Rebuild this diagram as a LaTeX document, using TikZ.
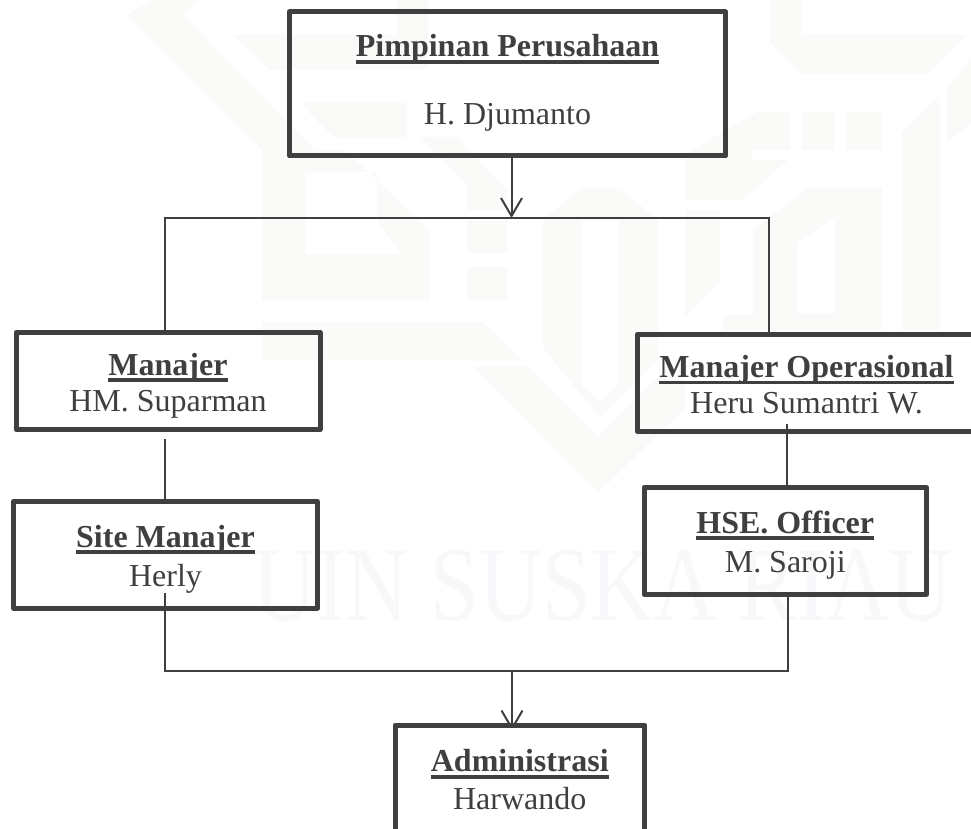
\documentclass[tikz,border=0pt]{standalone}
\usepackage{fontspec}
\setmainfont{Liberation Serif}
\usetikzlibrary{arrows.meta,backgrounds}
\definecolor{ink}{HTML}{3F3F3F}
\definecolor{paleA}{HTML}{FAFAF8}
\definecolor{paleB}{HTML}{F8F8FB}
\newsavebox{\ulbox}
\newlength{\ulwidth}
\newcommand{\ultitle}[1]{\sbox{\ulbox}{\bfseries #1}\settowidth{\ulwidth}{\usebox{\ulbox}}\rlap{\rule[-6.8pt]{\ulwidth}{3.4pt}}\usebox{\ulbox}}
% height above first baseline, baseline distance, depth below second baseline
\newcommand{\twolines}[5]{\rule{0pt}{#1pt}\ultitle{#4}\\[\dimexpr#2pt-30pt\relax]\rule[-#3pt]{0pt}{#3pt}#5}
\tikzset{
  orgbox/.style={draw=ink,line width=5pt,line join=round,inner sep=0pt,text=ink,align=center,
    font=\fontsize{32}{30}\selectfont},
  conn/.style={draw=ink,line width=2pt},
  arrowed/.style={-{Straight Barb[length=18pt,width=21pt,line width=2pt]}},
  wash/.style={fill=paleA,draw=none,even odd rule},
  washtext/.style={text=paleB,font=\fontsize{106}{106}\selectfont,xscale=.825,inner sep=0pt,anchor=base}
}
\begin{document}
\begin{tikzpicture}[x=1pt,y=-1pt]
\useasboundingbox (0,0) rectangle (971,829);
% faint background emblem
\fill[wash] (127,15) -- (153,0) -- (200,0) -- (183,15) -- (303,137) -- (315,150) -- (345,150) -- (430,230) -- (430,300) -- (262,300) -- (262,150) -- cycle
  (305,172) -- (377,172) -- (377,220) -- (400,254) -- (305,254) -- cycle;
\fill[wash] (233,35) -- (397,35) -- (397,0) -- (428,0) -- (428,70) -- (270,70) -- cycle;
\fill[wash] (300,103) -- (407,103) -- (407,137) -- (333,137) -- cycle;
\fill[wash] (420,137) -- (457,137) -- (507,190) -- (507,210) -- (467,210) -- (467,185) -- cycle;
\fill[wash] (467,220) rectangle (507,253);
\fill[wash] (467,267) rectangle (507,300);
\fill[wash] (262,322) -- (483,322) -- (523,360) -- (262,360) -- cycle;
\fill[wash] (473,367) -- (530,367) -- (598,437) -- (685,350) -- (685,408) -- (598,493) -- cycle;
\fill[wash] (543,348) -- (543,220) -- (580,188) -- (620,188) -- (658,220) -- (658,360) -- (600,418) -- cycle
  (582,220) -- (618,220) -- (618,385) -- (600,403) -- (582,385) -- cycle;
\fill[wash] (685,210) -- (720,210) -- (720,283) -- (685,317) -- cycle;
\fill[wash] (770,0) -- (802,0) -- (802,35) -- (967,35) -- (930,73) -- (800,73) -- (770,42) -- cycle;
\fill[wash] (802,112) rectangle (835,150);
\fill[wash] (847,112) rectangle (882,150);
\fill[wash] (685,155) -- (757,112) -- (790,112) -- (790,150) -- (752,150) -- (752,160) -- (788,160) -- (743,200) -- (685,200) -- cycle;
\fill[wash] (753,230) -- (808,188) -- (882,188) -- (882,330) -- (723,330) -- (723,315) -- (753,315) -- cycle
  (797,243) -- (835,217) -- (835,313) -- (797,313) -- cycle;
\fill[wash] (902,133) -- (940,95) -- (940,330) -- (902,330) -- cycle;
\fill[wash] (947,88) -- (971,58) -- (971,123) -- (947,143) -- cycle;
\node[washtext] (mark) at (603,620) {UIN SUSKA RIAU};
% boxes
\node[orgbox,minimum width=436pt,minimum height=144pt] (boss) at (507.5,84)
  {\twolines{45}{68}{31}{Pimpinan Perusahaan}{H. Djumanto}};
\node[orgbox,minimum width=304pt,minimum height=97pt] (mgr) at (168,381)
  {\twolines{42.5}{36.5}{18}{Manajer}{HM. Suparman}};
\node[orgbox,minimum width=339pt,minimum height=96.5pt] (ops) at (806.5,382.75)
  {\twolines{43}{35.5}{18}{Manajer Operasional}{Heru Sumantri W.}};
\node[orgbox,minimum width=304pt,minimum height=106.5pt] (site) at (165.5,554.75)
  {\twolines{45.5}{39}{22}{Site Manajer}{Herly}};
\node[orgbox,minimum width=282.5pt,minimum height=106.5pt] (hse) at (785.25,540.75)
  {\twolines{45.5}{39.5}{21.5}{HSE. Officer}{M. Saroji}};
\node[orgbox,fill=white,minimum width=249.5pt,minimum height=125pt] (admin) at (519.75,787.5)
  {\twolines{46.7}{37.3}{41}{Administrasi}{Harwando}};
% junctions and free ends
\coordinate (topL) at (165,218);
\coordinate (topM) at (511.5,218);
\coordinate (topR) at (768.5,218);
\coordinate (mgrEnd) at (165,439);
\coordinate (opsEnd) at (787,424);
\coordinate (siteEnd) at (165,593);
\coordinate (lowM) at (512,671);
\coordinate (lowR) at (787.5,671);
% connectors
\draw[conn,arrowed] (topM |- boss.south) -- (topM);
\draw[conn] (topL |- mgr.north) -- (topL) -- (topR) -- (topR |- ops.north);
\draw[conn] (mgrEnd) -- (mgrEnd |- site.north);
\draw[conn] (opsEnd) -- (opsEnd |- hse.north);
\draw[conn] (siteEnd) |- (lowR) -- (lowR |- hse.south);
\begin{scope}[on background layer]
  \draw[conn,arrowed] (lowM) -- ([yshift=-8pt]lowM |- admin.north);
\end{scope}
\end{tikzpicture}
\end{document}
